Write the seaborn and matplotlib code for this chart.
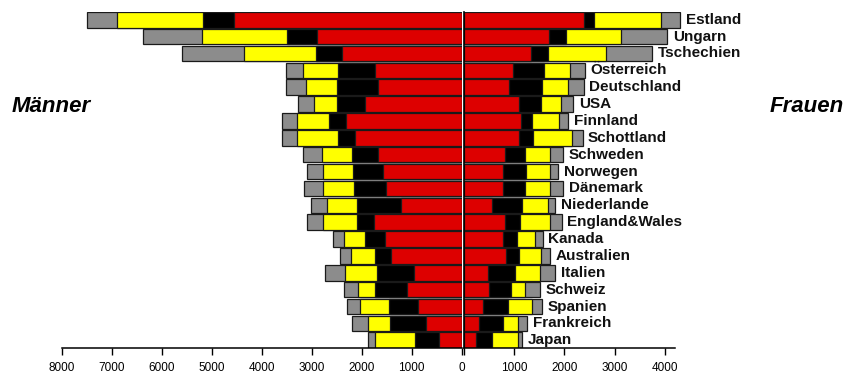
import matplotlib
import pandas as pd

matplotlib.use("Agg")
import matplotlib.pyplot as plt
import seaborn as sns


COUNTRIES = [
    "Estland", "Ungarn", "Tschechien", "Österreich", "Deutschland", "USA",
    "Finnland", "Schottland", "Schweden", "Norwegen", "Dänemark", "Niederlande",
    "England&Wales", "Kanada", "Australien", "Italien", "Schweiz", "Spanien",
    "Frankreich", "Japan",
]

# Männer: Segmentlängen (rot, schwarz, gelb, grau)
MEN_RED = [4550, 2900, 2390, 1730, 1670, 1940, 2310, 2130, 1670, 1570, 1510, 1220, 1750, 1540, 1410, 960, 1090, 880, 720, 450]
MEN_BLACK = [630, 600, 530, 740, 830, 560, 340, 340, 530, 610, 640, 880, 350, 400, 320, 740, 640, 580, 710, 480]
MEN_YELLOW = [1720, 1690, 1430, 700, 610, 460, 650, 830, 590, 590, 620, 590, 670, 410, 480, 640, 350, 570, 440, 800]
MEN_GRAY = [590, 1180, 1240, 350, 410, 320, 300, 300, 390, 330, 380, 330, 330, 220, 220, 390, 270, 270, 320, 150]

# Frauen: Segmentlängen (rot, schwarz, gelb, grau)
WOMEN_RED = [2380, 1690, 1330, 980, 900, 1090, 1140, 1090, 810, 780, 780, 560, 810, 780, 830, 470, 500, 380, 300, 240]
WOMEN_BLACK = [200, 340, 340, 610, 660, 440, 220, 280, 400, 460, 440, 600, 300, 280, 260, 540, 430, 500, 470, 310]
WOMEN_YELLOW = [1350, 1090, 1160, 520, 510, 400, 540, 780, 510, 480, 500, 520, 610, 360, 450, 510, 280, 480, 310, 530]
WOMEN_GRAY = [370, 930, 920, 300, 310, 250, 170, 210, 250, 160, 250, 140, 230, 150, 180, 300, 310, 200, 180, 80]

MEN_TICKS = [8000, 7000, 6000, 5000, 4000, 3000, 2000, 1000, 0]
WOMEN_TICKS = [0, 1000, 2000, 3000, 4000]

SEGMENT_COLORS = ["#DD0000", "#000000", "#FFFF00", "#8C8C8C"]
EDGE = "#1A1A1A"
BAR_HEIGHT = 0.92


def build_frame(red, black, yellow, gray) -> pd.DataFrame:
    df = pd.DataFrame({"country": COUNTRIES, "red": red, "black": black, "yellow": yellow, "gray": gray})
    df["c_red"] = df["red"]
    df["c_black"] = df["c_red"] + df["black"]
    df["c_yellow"] = df["c_black"] + df["yellow"]
    df["c_gray"] = df["c_yellow"] + df["gray"]
    return df


def draw_stack(ax, df: pd.DataFrame) -> None:
    # grösste Summe zuerst, kleinere darüber -> gestapelte Optik
    for column, color in zip(["c_gray", "c_yellow", "c_black", "c_red"], SEGMENT_COLORS[::-1]):
        sns.barplot(
            data=df,
            x=column,
            y="country",
            orient="h",
            color=color,
            saturation=1,
            width=BAR_HEIGHT,
            edgecolor=EDGE,
            linewidth=0.9,
            ax=ax,
        )
    n = len(df)
    ax.set_ylim(n - 1 + BAR_HEIGHT / 2, -BAR_HEIGHT / 2)
    ax.set_ylabel("")
    ax.set_xlabel("")
    ax.set_yticks([])
    for side in ["top", "left", "right"]:
        ax.spines[side].set_visible(False)
    ax.spines["bottom"].set_linewidth(1.1)
    ax.spines["bottom"].set_color("black")
    ax.tick_params(axis="x", bottom=True, direction="out", length=5, width=1,
                   color="black", labelcolor="black", labelsize=8.5, pad=5)


def main() -> None:
    sns.set_theme(style="white")
    plt.rcParams["font.family"] = ["Liberation Sans", "DejaVu Sans"]
    plt.rcParams["text.color"] = "black"

    men = build_frame(MEN_RED, MEN_BLACK, MEN_YELLOW, MEN_GRAY)
    women = build_frame(WOMEN_RED, WOMEN_BLACK, WOMEN_YELLOW, WOMEN_GRAY)

    fig = plt.figure(figsize=(8.53, 3.79), dpi=100)
    bottom = 31 / 379
    height = 336 / 379
    ax_m = fig.add_axes([61.7 / 853, bottom, 400 / 853, height])
    ax_w = fig.add_axes([464 / 853, bottom, 221 / 853, height])

    draw_stack(ax_m, men)
    ax_m.set_xlim(8000, 0)
    ax_m.set_xticks(MEN_TICKS)
    ax_m.set_xticklabels([str(t) for t in MEN_TICKS])

    draw_stack(ax_w, women)
    ax_w.set_xlim(0, 4400)
    ax_w.set_xticks(WOMEN_TICKS)
    ax_w.set_xticklabels(["" if t == 0 else str(t) for t in WOMEN_TICKS])
    ax_w.spines["bottom"].set_bounds(0, 4200)
    ax_w.spines["left"].set_visible(True)
    ax_w.spines["left"].set_color("black")
    ax_w.spines["left"].set_linewidth(1.2)

    for i, row in women.iterrows():
        ax_w.annotate(
            row["country"],
            xy=(row["c_gray"], i),
            xytext=(4, 0),
            textcoords="offset points",
            ha="left",
            va="center",
            fontsize=11,
            fontweight="bold",
            color="#111111",
            annotation_clip=False,
        )

    fig.text(12 / 853, 1 - 106 / 379, "Männer", ha="left", va="center",
             fontsize=16, fontweight="bold", fontstyle="italic")
    fig.text(770 / 853, 1 - 106 / 379, "Frauen", ha="left", va="center",
             fontsize=16, fontweight="bold", fontstyle="italic")

    fig.savefig("out.png", dpi=100)
    plt.close(fig)


if __name__ == "__main__":
    main()
